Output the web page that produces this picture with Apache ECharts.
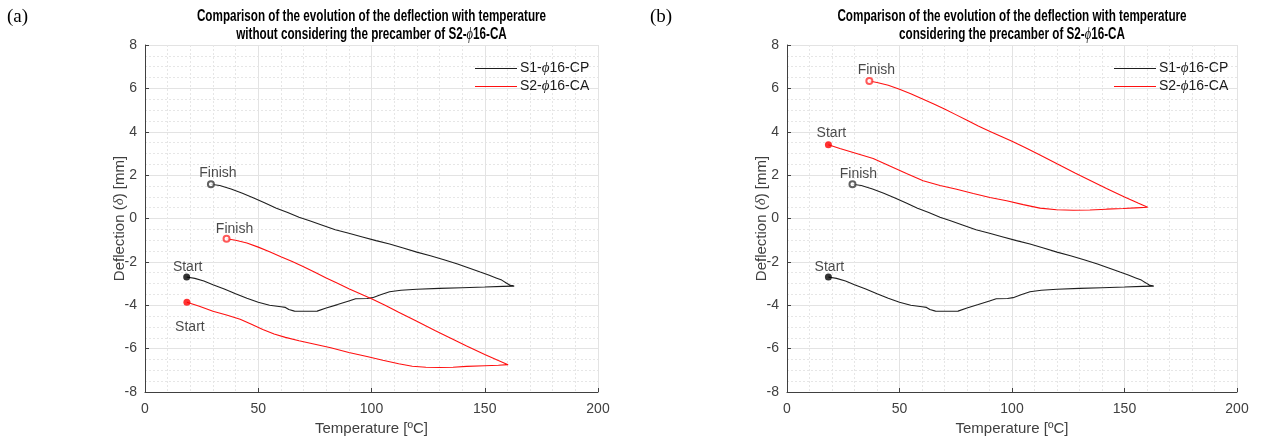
<!DOCTYPE html>
<html>
<head>
<meta charset="utf-8">
<script src="https://cdn.jsdelivr.net/npm/echarts@6/dist/echarts.min.js"></script>
<style>
  html, body { margin: 0; background: #fff; }
  #chart { width: 1267px; height: 438px; }
</style>
</head>
<body>
<div id="chart"></div>
<script>
// S1-phi16-CP (same test in both panels): heating branch, then cooling branch
const s1Temp = [18.4, 22, 26, 30, 35, 40, 45, 50, 55, 60, 62, 63.5, 66, 70, 76, 80, 85, 90, 93, 98, 100.5, 104, 108, 113, 120, 130, 140, 150, 158, 163,
  161, 159.5, 157.5, 155, 152, 148, 143, 138, 132, 126, 120, 114, 108, 102, 96, 90, 84, 78, 73, 68, 63, 58, 53, 48, 43, 38, 33, 29.1];
const s1Defl = [-2.70, -2.76, -2.88, -3.05, -3.25, -3.47, -3.68, -3.86, -4.00, -4.07, -4.10, -4.20, -4.27, -4.28, -4.27, -4.13, -3.97, -3.80, -3.70, -3.69, -3.65, -3.52, -3.38, -3.31, -3.26, -3.22, -3.19, -3.16, -3.13, -3.12,
  -3.07, -2.97, -2.84, -2.74, -2.62, -2.47, -2.28, -2.10, -1.90, -1.72, -1.55, -1.36, -1.18, -1.02, -0.85, -0.68, -0.52, -0.30, -0.12, 0.06, 0.28, 0.47, 0.72, 0.95, 1.16, 1.36, 1.52, 1.58];

// S2-phi16-CA without precamber (panel a)
const s2TempA = [18.5, 24, 30, 36, 42, 47, 52, 57, 62, 68, 75, 82, 90, 98, 105, 112, 118, 124, 130, 136, 142, 150, 156, 160.3,
  156, 150, 142, 135, 128, 120, 112, 106, 100, 95, 90, 85, 80, 75, 70, 65, 60, 55, 50, 45, 40, 36];
const s2DeflA = [-3.86, -4.05, -4.28, -4.45, -4.65, -4.88, -5.12, -5.33, -5.48, -5.64, -5.80, -5.96, -6.18, -6.36, -6.54, -6.70, -6.81, -6.86, -6.87, -6.86, -6.82, -6.79, -6.77, -6.74,
  -6.55, -6.27, -5.88, -5.52, -5.16, -4.74, -4.32, -4.00, -3.70, -3.47, -3.24, -2.99, -2.74, -2.48, -2.22, -1.98, -1.76, -1.53, -1.32, -1.13, -1.00, -0.93];

// S2-phi16-CA considering precamber (panel b)
const s2TempB = [18.4, 23.5, 30.9, 38.3, 45.7, 53.1, 60.5, 68, 75.4, 82.8, 90.2, 97.6, 105, 112.4, 119.8, 127.2, 134.6, 142, 149.4, 155, 160.3,
  156, 150, 142, 135, 128, 120, 112, 106, 100, 95, 90, 85, 80, 75, 70, 65, 60, 55, 50, 45, 40, 36.6];
const s2DeflB = [3.40, 3.23, 3.00, 2.77, 2.42, 2.07, 1.74, 1.52, 1.35, 1.15, 0.97, 0.82, 0.64, 0.48, 0.40, 0.38, 0.39, 0.43, 0.46, 0.49, 0.52,
  0.71, 0.99, 1.38, 1.74, 2.10, 2.52, 2.95, 3.26, 3.56, 3.79, 4.02, 4.27, 4.53, 4.79, 5.05, 5.29, 5.52, 5.75, 5.96, 6.14, 6.27, 6.34];

const seriesNames = ['S1-ϕ16-CP', 'S2-ϕ16-CA'];
const seriesColors = ['#1f1f1f', '#ff1010'];
const panelTitles = [
  ['Comparison of the evolution of the deflection with temperature', 'without considering the precamber of S2-{i|ϕ}16-CA'],
  ['Comparison of the evolution of the deflection with temperature', 'considering the precamber of S2-{i|ϕ}16-CA']
];
const panelTags = ['(a)', '(b)'];
const xTitle = 'Temperature [ºC]';
const yTitle = 'Deflection ({i|δ}) [mm]';

const zip = (xs, ys) => xs.map((x, i) => [x, ys[i]]);
const first = (xs, ys) => [[xs[0], ys[0]]];
const last = (xs, ys) => [[xs[xs.length - 1], ys[ys.length - 1]]];

const FONT = '"Liberation Sans", Arial, Helvetica, sans-serif';
const SERIF = '"Liberation Serif", "Times New Roman", serif';
const greek = { i: { fontStyle: 'italic', fontFamily: SERIF } };
// thin horizontal bar; the corner specks keep the 42x14 box so the bar is not stretched
const LEGEND_LINE = 'path://M0,0H0.01V0.01H0ZM0,6.4H42V7.6H0ZM41.99,13.99H42V14H41.99Z';

const chart = echarts.init(document.getElementById('chart'));

const grids = [
  { left: 145, top: 45, width: 453, height: 347, outerBoundsMode: 'none' },
  { left: 787, top: 45, width: 450, height: 347, outerBoundsMode: 'none' }
];

const axisCommon = {
  nameLocation: 'middle',
  nameMoveOverlap: false,
  axisLine: { onZero: false, lineStyle: { color: '#404040', width: 1 } },
  axisTick: { inside: true, length: 4, lineStyle: { color: '#404040' } },
  splitLine: { show: true, lineStyle: { color: '#e3e3e3', width: 1 } },
  minorSplitLine: { show: true, lineStyle: { color: '#e6e6e6', width: 1, type: [2, 2] } }
};

const xAxes = grids.map((g, i) => Object.assign({}, axisCommon, {
  type: 'value', gridIndex: i, min: 0, max: 200, interval: 50,
  name: xTitle, nameGap: 29,
  nameTextStyle: { fontFamily: FONT, fontSize: 15, color: '#404040' },
  minorTick: { show: false, splitNumber: 5 },
  axisLabel: { fontFamily: FONT, fontSize: 14, color: '#404040', margin: 10 }
}));

const yAxes = grids.map((g, i) => Object.assign({}, axisCommon, {
  type: 'value', gridIndex: i, min: -8, max: 8, interval: 2,
  name: yTitle, nameGap: 18,
  nameTextStyle: { fontFamily: FONT, fontSize: 15, color: '#404040', rich: greek },
  minorTick: { show: false, splitNumber: 4 },
  axisLabel: { fontFamily: FONT, fontSize: 14, color: '#404040', margin: 8 }
}));

const labelStyle = { show: true, fontFamily: FONT, fontSize: 14, color: '#1a1a1a' };

function curve(k, data, i) {
  return {
    name: seriesNames[k], type: 'line', xAxisIndex: i, yAxisIndex: i, data,
    symbol: 'none', smooth: false, z: 3, color: seriesColors[k],
    lineStyle: { color: seriesColors[k], width: 1.1 }, itemStyle: { color: seriesColors[k] }
  };
}
function marker(color, data, i, filled, text, position, offset) {
  return {
    type: 'scatter', xAxisIndex: i, yAxisIndex: i, data, z: 4,
    symbol: filled ? 'circle' : 'emptyCircle', symbolSize: filled ? 7 : 6,
    itemStyle: filled ? { color } : { color, borderWidth: 1 },
    label: Object.assign({}, labelStyle, { formatter: text, position, offset }),
    silent: true
  };
}

const series = [
  // panel (a)
  curve(0, zip(s1Temp, s1Defl), 0),
  curve(1, zip(s2TempA, s2DeflA), 0),
  marker('#000', first(s1Temp, s1Defl), 0, true, 'Start', 'top', [1, 6]),
  marker('#3a3a3a', last(s1Temp, s1Defl), 0, false, 'Finish', 'top', [7, 5]),
  marker('#ff0000', first(s2TempA, s2DeflA), 0, true, 'Start', 'bottom', [3, 9]),
  marker('#ff3030', last(s2TempA, s2DeflA), 0, false, 'Finish', 'top', [8, 6]),
  // panel (b)
  curve(0, zip(s1Temp, s1Defl), 1),
  curve(1, zip(s2TempB, s2DeflB), 1),
  marker('#000', first(s1Temp, s1Defl), 1, true, 'Start', 'top', [1, 6]),
  marker('#3a3a3a', last(s1Temp, s1Defl), 1, false, 'Finish', 'top', [6, 6]),
  marker('#ff0000', first(s2TempB, s2DeflB), 1, true, 'Start', 'top', [3, 4]),
  marker('#ff3030', last(s2TempB, s2DeflB), 1, false, 'Finish', 'top', [7, 5])
];

// titles drawn as graphic text so they can be squeezed like the original figure
const titleGraphics = [];
grids.forEach((g, i) => {
  panelTitles[i].forEach((line, k) => {
    titleGraphics.push({
      type: 'text',
      x: g.left + g.width / 2, y: 17 + k * 18,
      scaleX: 0.73,
      style: {
        text: line, align: 'center', verticalAlign: 'middle',
        font: 'bold 16px ' + FONT, fill: '#000',
        rich: { i: { fontStyle: 'italic', fontWeight: 'normal', fontFamily: SERIF, fontSize: 17 } }
      }
    });
  });
});

// one legend per entry so each row gets its own colour
const legends = [];
grids.forEach((g) => {
  seriesNames.forEach((n, k) => {
    legends.push({
      data: [n],
      left: g.left + g.width - 123, top: 61 + k * 18, padding: 0,
      icon: LEGEND_LINE, itemWidth: 42, itemHeight: 14,
      itemStyle: { color: seriesColors[k], borderWidth: 0 },
      formatter: (s) => s.replace('ϕ', '{i|ϕ}'),
      textStyle: { fontFamily: FONT, fontSize: 14, color: '#1a1a1a', padding: [0, 0, 0, -2], rich: { i: { fontStyle: 'italic', fontFamily: SERIF, fontSize: 15 } } },
      selectedMode: false
    });
  });
});

const option = {
  backgroundColor: '#fff',
  animation: false,
  legend: legends,
  graphic: titleGraphics.concat(panelTags.map((t, i) => ({
    type: 'text', x: i === 0 ? 7 : 650, y: 8,
    style: { text: t, font: '19px ' + SERIF, fill: '#000' }
  }))),
  grid: grids,
  xAxis: xAxes,
  yAxis: yAxes,
  series
};

chart.setOption(option);
</script>
</body>
</html>
